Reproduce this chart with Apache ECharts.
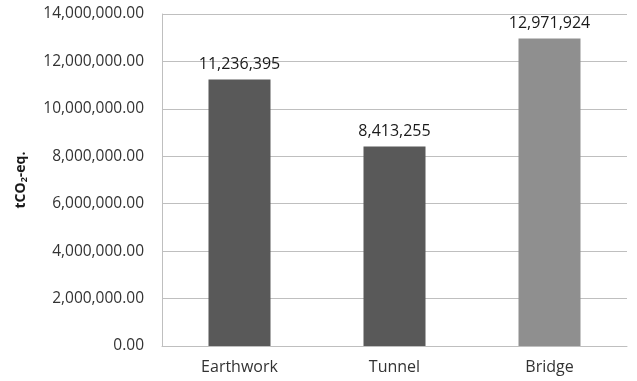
<!DOCTYPE html>
<html>
<head>
<meta charset="utf-8">
<script src="https://cdn.jsdelivr.net/npm/echarts@6/dist/echarts.min.js"></script>
<style>
  html, body { margin: 0; padding: 0; background: #fff; }
  #main { width: 637px; height: 381px; }
</style>
</head>
<body>
<div id="main"></div>
<script>
// data
var categories = ["Earthwork", "Tunnel", "Bridge"];
var values = [11236395, 8413255, 12971924];
var barColors = ["#595959", "#595959", "#8f8f8f"];

var chart = echarts.init(document.getElementById("main"));

function fmt(n, dec) {
  return n.toLocaleString("en-US", { minimumFractionDigits: dec, maximumFractionDigits: dec });
}

var option = {
  animation: false,
  textStyle: { fontFamily: "Open Sans" },
  grid: { left: 162, right: 10, top: 14, bottom: 35 },
  xAxis: {
    type: "category",
    data: categories,
    axisLine: { show: true, lineStyle: { color: "#bfbfbf" } },
    axisTick: { show: false },
    axisLabel: { color: "#333", fontSize: 16, margin: 13 }
  },
  yAxis: {
    type: "value",
    min: 0,
    max: 14000000,
    interval: 2000000,
    name: "{b|tCO}{s|2}{b|-eq.}",
    nameLocation: "middle",
    nameRotate: 90,
    nameGap: 133,
    nameTextStyle: {
      rich: {
        b: { fontSize: 14, fontWeight: "bold", color: "#1a1a1a" },
        s: { fontSize: 9, fontWeight: "bold", color: "#1a1a1a", verticalAlign: "bottom", padding: [6, 0, 0, 0] }
      }
    },
    axisLine: { show: true, lineStyle: { color: "#bfbfbf" } },
    axisTick: { show: false },
    splitLine: { lineStyle: { color: "#bfbfbf" } },
    axisLabel: {
      color: "#333",
      fontSize: 15.5,
      margin: 18,
      formatter: function (v) { return fmt(v, 2); }
    }
  },
  series: [{
    type: "bar",
    barWidth: "40%",
    data: values.map(function (v, i) {
      return { value: v, itemStyle: { color: barColors[i] } };
    }),
    label: {
      show: true,
      position: "top",
      distance: 7,
      color: "#1a1a1a",
      fontSize: 16,
      formatter: function (p) { return fmt(p.value, 0); }
    }
  }]
};

chart.setOption(option);
</script>
</body>
</html>
